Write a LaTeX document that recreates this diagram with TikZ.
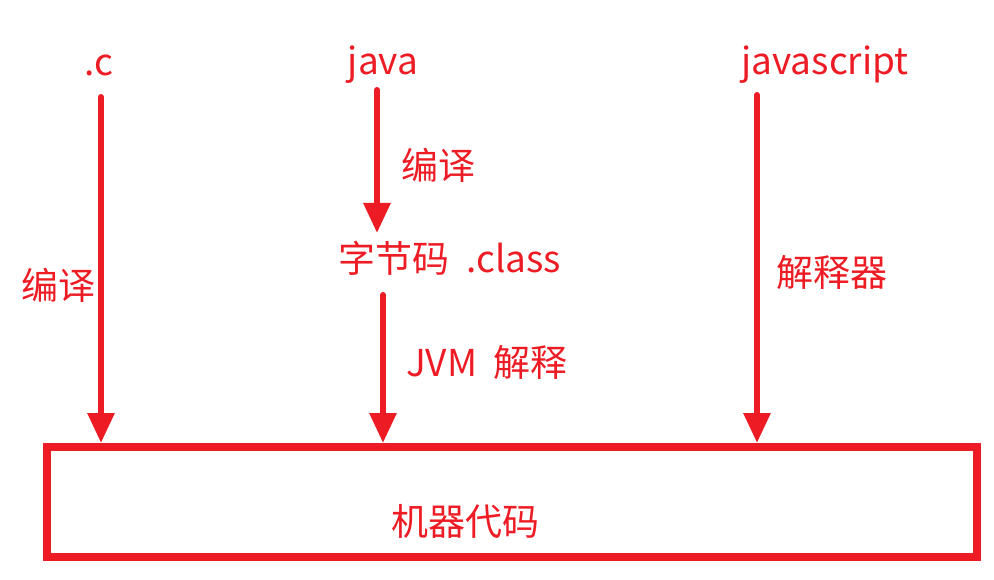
\documentclass[tikz,border=0pt]{standalone}
\usepackage{fontspec}
\setmainfont{Noto Sans CJK SC}
\usetikzlibrary{arrows.meta, positioning}
\definecolor{codered}{HTML}{ED1C24}

\begin{document}
\begin{tikzpicture}[x=1pt, y=-1pt,
    lbl/.style={text=codered, font=\fontsize{37}{40}\selectfont, inner sep=0pt},
    flow/.style={draw=codered, line width=6pt, line cap=round, -{Triangle[length=30pt, width=26pt]}}]
          \useasboundingbox (0,0) rectangle (994,580);

          % Caja de código máquina
          \node[draw=codered, line width=8pt, minimum width=930pt, minimum height=110pt, inner sep=0pt] (machine) at (512,502) {};
          \node[lbl] (mlabel) at (465,521) {机器代码};

          % Lenguajes
          \node[lbl] (c) at (99,65) {.c};
          \node[lbl] (java) at (383,65) {java};
          \node[lbl] (js) at (825,65) {javascript};
          \node[lbl] (bytecode) at (450,258) {字节码\ \ .class};

          % C: compilado
          \coordinate (cstart) at (101,97);
          \draw[flow] (cstart) -- (cstart |- machine.north);
          \node[lbl] at (58,285) {编译};

          % Java: compilado y luego JVM
          \coordinate (jstart) at (377,90);
          \coordinate (jend) at (377,233);
          \draw[flow] (jstart) -- (jend);
          \node[lbl] at (438,165) {编译};
          \coordinate (bstart) at (383,295);
          \draw[flow] (bstart) -- (bstart |- machine.north);
          \node[lbl] at (487,362) {JVM\ \ 解释};

          % JavaScript: intérprete
          \coordinate (sstart) at (757,95);
          \draw[flow] (sstart) -- (sstart |- machine.north);
          \node[lbl] at (832,272) {解释器};
        \end{tikzpicture}
\end{document}
